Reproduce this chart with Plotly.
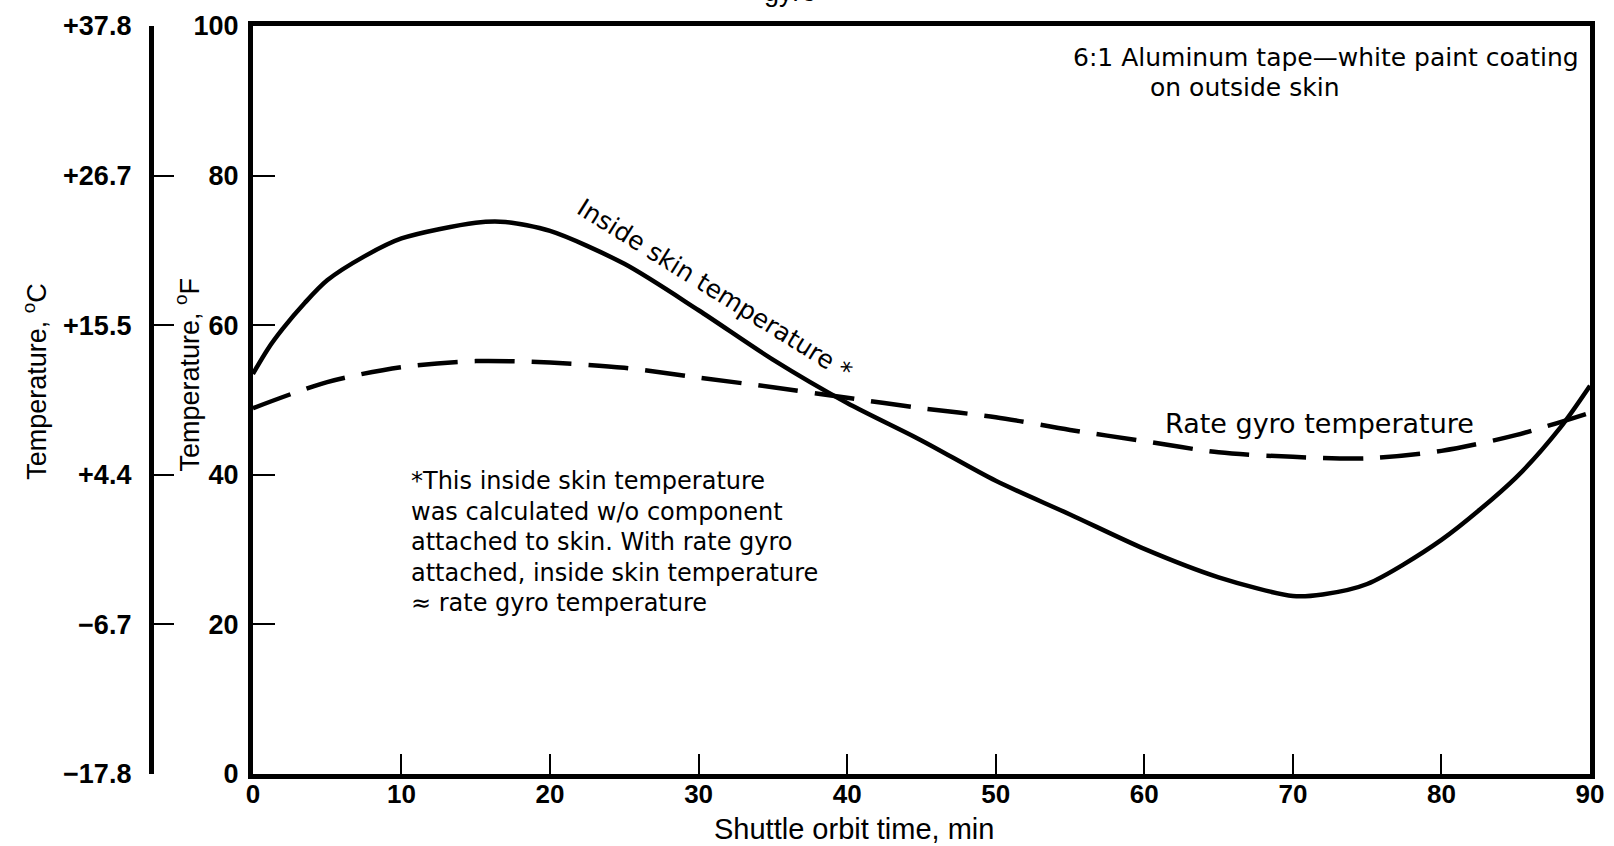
import plotly.graph_objects as go

# ---- data ----
skin_time = [0, 1, 2, 3.5, 5, 7.5, 10, 15, 17, 20, 25, 30, 35, 40, 45, 50, 55, 60, 65, 70, 72, 75, 80, 85, 88, 90]
skin_temp_f = [53.5, 56.8, 59.5, 63.0, 66.0, 69.2, 71.6, 73.7, 73.8, 72.6, 68.2, 62.0, 55.4, 49.6, 44.6, 39.2, 34.7, 30.1, 26.3, 23.8, 24.0, 25.4, 31.3, 39.6, 46.3, 51.9]

gyro_time = [0, 5, 10, 15, 20, 25, 30, 35, 40, 45, 50, 55, 60, 65, 70, 75, 80, 85, 90]
gyro_temp_f = [48.9, 52.4, 54.4, 55.2, 55.0, 54.3, 53.0, 51.7, 50.3, 48.9, 47.7, 46.0, 44.5, 43.0, 42.4, 42.2, 43.2, 45.3, 48.3]

x_ticks = [0, 10, 20, 30, 40, 50, 60, 70, 80, 90]
f_ticks = [0, 20, 40, 60, 80, 100]
c_tick_labels = ["\u221217.8", "\u22126.7", "+4.4", "+15.5", "+26.7", "+37.8"]

def f_to_c(v):
    return (v - 32) * 5 / 9

FONT = "Liberation Sans"
TXT = "DejaVu Sans"
W, H = 1614, 846
ML, MR, MT, MB = 10, 17, 26, 72
plot_w = W - ML - MR
x0_px = 248
xdom0 = (x0_px - ML) / plot_w
c_axis_px = 145
c_pos = (c_axis_px - ML) / plot_w

fig = go.Figure()
fig.add_trace(go.Scatter(x=skin_time, y=skin_temp_f, mode="lines",
                         line=dict(color="black", width=4.5, shape="spline", smoothing=0.8),
                         showlegend=False, hoverinfo="skip"))
fig.add_trace(go.Scatter(x=gyro_time, y=gyro_temp_f, mode="lines",
                         line=dict(color="black", width=4.5, dash="40px,17px", shape="spline", smoothing=0.8),
                         showlegend=False, hoverinfo="skip"))
# invisible trace to bind the Celsius axis
fig.add_trace(go.Scatter(x=skin_time, y=[f_to_c(v) for v in skin_temp_f], yaxis="y2",
                         mode="lines", line=dict(color="rgba(0,0,0,0)", width=0),
                         showlegend=False, hoverinfo="skip"))

yfont = dict(family=FONT, size=27, color="black", weight="bold")
xfont = dict(family=FONT, size=26, color="black", weight="bold")

fig.update_layout(
    width=W, height=H,
    margin=dict(l=ML, r=MR, t=MT, b=MB),
    plot_bgcolor="white", paper_bgcolor="white",
    xaxis=dict(domain=[xdom0, 1], range=[0, 90], tickvals=x_ticks,
               ticks="inside", ticklen=20, tickwidth=2, tickcolor="black",
               showline=True, linewidth=5, linecolor="black", mirror=True,
               showgrid=False, zeroline=False, tickfont=xfont, ticklabelstandoff=-7),
    yaxis=dict(range=[0, 100], tickvals=f_ticks,
               ticks="inside", ticklen=22, tickwidth=2, tickcolor="black",
               showline=True, linewidth=5, linecolor="black", mirror=True,
               showgrid=False, zeroline=False, tickfont=yfont, ticklabelstandoff=4),
    yaxis2=dict(range=[f_to_c(0), f_to_c(100)], tickvals=[f_to_c(v) for v in f_ticks],
                ticktext=c_tick_labels, overlaying="y", anchor="free", position=c_pos,
                side="left", ticks="inside", ticklen=20, tickwidth=2, tickcolor="black",
                showline=True, linewidth=5, linecolor="black",
                showgrid=False, zeroline=False, tickfont=yfont, ticklabelstandoff=12),
)

def px_x(X):
    return (X - ML) / plot_w

def px_y(Y):
    return (H - MB - Y) / (H - MT - MB)

def add_text(text, X, Y, xanchor="left", yanchor="middle", angle=0, size=25, family=TXT):
    fig.add_annotation(text=text, x=px_x(X), y=px_y(Y), xref="paper", yref="paper",
                       xanchor=xanchor, yanchor=yanchor, showarrow=False, textangle=angle,
                       font=dict(family=family, size=size, color="black"))

add_text("6:1 Aluminum tape\u2014white paint coating", 1073, 58, size=25)
add_text("on outside skin", 1151, 87, size=25)
add_text("Rate gyro temperature", 1166, 423, size=27)
add_text("Inside skin temperature *", 714, 289, xanchor="center", angle=32, size=25)
foot = ["*This inside skin temperature",
        "was calculated w/o component",
        "attached to skin. With rate gyro",
        "attached, inside skin temperature",
        "\u2248 rate gyro temperature"]
for i, line in enumerate(foot):
    add_text(line, 405, 481 + i * 30.5, size=24)
add_text("Shuttle orbit time, min", 854, 829, xanchor="center", size=29, family=FONT)
add_text("Temperature, <sup>o</sup>C", 28, 381, xanchor="center", angle=-90, size=27, family=FONT)
add_text("Temperature, <sup>o</sup>F", 182, 374, xanchor="center", angle=-90, size=27, family=FONT)
add_text("gyro", 790, 9, xanchor="center", yanchor="bottom", size=27, family=FONT)

fig.write_html("out.html")
